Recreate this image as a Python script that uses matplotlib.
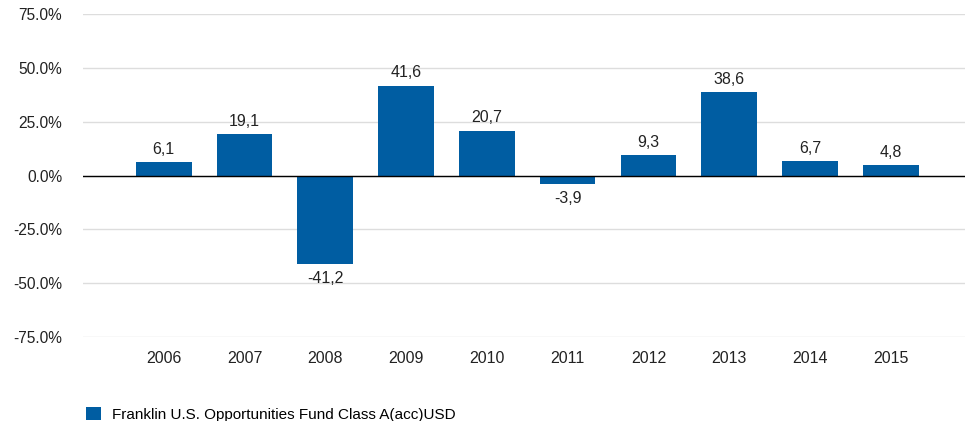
import matplotlib.pyplot as plt

plt.rcParams['font.family'] = ['Liberation Sans', 'DejaVu Sans']

years = ["2006", "2007", "2008", "2009", "2010", "2011", "2012", "2013", "2014", "2015"]
returns = [6.1, 19.1, -41.2, 41.6, 20.7, -3.9, 9.3, 38.6, 6.7, 4.8]
yticks = [-75, -50, -25, 0, 25, 50, 75]
series_name = "Franklin U.S. Opportunities Fund Class A(acc)USD"

blue = "#005DA2"

fig = plt.figure(figsize=(9.65, 4.21), dpi=100)
ax = fig.add_axes([0.086, 0.1995, 0.914, 0.7672])

x = range(len(years))
bars = ax.bar(x, returns, width=0.69, color=blue, label=series_name, zorder=3)

for xi, v in zip(x, returns):
    label = f"{v:.1f}".replace(".", ",")
    if v >= 0:
        ax.annotate(label, (xi, v), xytext=(0, 4), textcoords="offset points",
                    ha="center", va="bottom", fontsize=11.5, color="#222222")
    else:
        ax.annotate(label, (xi, v), xytext=(0, -5), textcoords="offset points",
                    ha="center", va="top", fontsize=11.5, color="#222222")

ax.set_ylim(-75, 75)
ax.set_xlim(-1, 9.92)
ax.set_yticks(yticks)
ax.set_yticklabels([f"{t:.1f}%" for t in yticks])
ax.set_xticks(list(x))
ax.set_xticklabels(years)
ax.tick_params(axis="y", length=0, pad=15, labelsize=11.2, labelcolor="#222222")
ax.tick_params(axis="x", length=0, pad=10, labelsize=11.5, labelcolor="#222222")

ax.grid(axis="y", color="#DDDDDD", linewidth=1, zorder=0)
ax.axhline(0, color="black", linewidth=1, zorder=4)
for s in ax.spines.values():
    s.set_visible(False)

fig.legend(handles=[bars], labels=[series_name], loc="lower left",
           bbox_to_anchor=(0.075, -0.035), frameon=False, fontsize=11,
           handlelength=0.95, handleheight=0.95, handletextpad=0.75)

fig.savefig("out.png", dpi=100)
